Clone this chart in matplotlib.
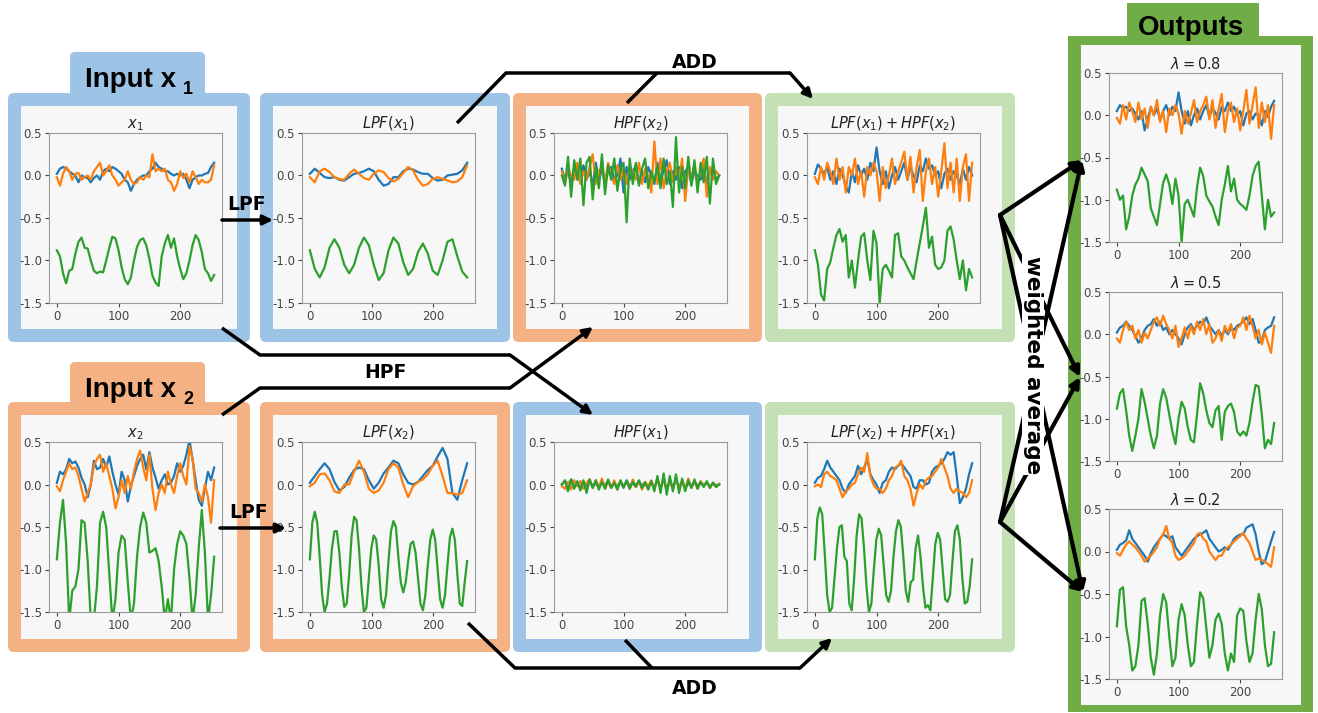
import numpy as np
import matplotlib.pyplot as plt
from matplotlib.patches import FancyBboxPatch, Rectangle

plt.rcParams['axes.unicode_minus'] = False

# ---- data (x runs 0..255 in every panel) ----
x1_blue = [0.02, 0.08, 0.1, 0.08, 0.05, 0.02, 0.0, -0.08, 0.0, -0.02, -0.03, -0.08, -0.03, 0.0,
           -0.05, 0.05, 0.08, 0.05, 0.1, 0.08, 0.05, 0.02, -0.05, -0.08, -0.18, -0.1, -0.05, -0.02,
           0.0, 0.0, 0.05, 0.08, 0.15, 0.1, 0.08, 0.05, 0.05, 0.02, 0.0, 0.02, 0.0, 0.02, -0.05,
           -0.15, -0.05, -0.02, 0.0, 0.0, 0.02, 0.03, 0.1, 0.15]
x1_orange = [-0.02, -0.12, 0.02, 0.1, 0.05, -0.05, 0.02, 0.03, -0.05, -0.02, 0.0, -0.05, 0.05, 0.1,
             0.15, 0.0, 0.05, 0.12, 0.0, -0.05, -0.12, -0.08, -0.05, 0.05, -0.05, -0.1, -0.08, -0.02,
             -0.05, 0.0, -0.02, 0.25, 0.05, 0.08, 0.05, 0.08, -0.05, -0.08, -0.18, -0.1, 0.05, -0.03,
             0.02, -0.08, 0.05, -0.02, -0.1, -0.05, -0.08, -0.08, -0.05, 0.12]
x1_green = [-0.88, -0.95, -1.15, -1.27, -1.12, -1.1, -0.92, -0.78, -0.73, -0.85, -0.86, -1.0, -1.12,
            -1.15, -1.13, -1.14, -1.0, -0.85, -0.72, -0.74, -0.88, -1.08, -1.22, -1.28, -1.2, -1.0,
            -0.84, -0.76, -0.74, -0.82, -0.98, -1.18, -1.26, -1.3, -0.95, -0.8, -0.7, -0.85, -0.74,
            -0.95, -1.1, -1.22, -1.15, -1.0, -0.82, -0.7, -0.76, -0.9, -1.1, -1.15, -1.24, -1.17]

lpf1_blue = [0.02, 0.08, 0.03, -0.02, -0.03, -0.02, -0.05, -0.06, -0.02, 0.02, 0.03, 0.05, 0.08,
             0.05, -0.05, -0.12, -0.1, -0.02, -0.02, 0.05, 0.08, 0.07, 0.04, 0.02, 0.02, -0.03,
             -0.06, -0.05, 0.0, 0.01, 0.02, 0.06, 0.15]
lpf1_orange = [-0.02, -0.08, 0.05, 0.08, 0.04, -0.02, -0.04, -0.05, 0.02, 0.07, 0.02, -0.03, -0.05,
               0.02, 0.06, 0.04, -0.03, -0.07, -0.04, 0.03, 0.1, 0.06, -0.05, -0.12, -0.1, -0.04,
               -0.02, -0.04, -0.06, -0.08, -0.07, -0.02, 0.12]
lpf1_green = [-0.88, -1.1, -1.2, -1.08, -0.85, -0.75, -0.85, -1.05, -1.15, -1.05, -0.85, -0.73, -0.82,
              -1.05, -1.23, -1.15, -0.88, -0.73, -0.8, -1.02, -1.17, -1.1, -0.9, -0.8, -0.92, -1.12,
              -1.17, -1.0, -0.78, -0.75, -0.95, -1.13, -1.2]

hpf2_blue = [0.08, -0.05, 0.05, -0.1, 0.1, 0.0, -0.08, 0.12, -0.05, 0.05, -0.12, 0.15, -0.05, 0.08,
             -0.1, 0.05, 0.1, -0.05, 0.0, 0.2, -0.2, 0.1, -0.05, 0.05, 0.12, -0.1, 0.05, -0.08, 0.1,
             0.0, -0.1, 0.15, -0.05, 0.05, 0.18, -0.1, 0.05, -0.05, 0.1, -0.15, 0.05, 0.1, -0.1,
             0.05, 0.0, -0.05, 0.1, -0.1, 0.05, 0.08, -0.05, 0.0]
hpf2_orange = [0.05, -0.1, 0.1, 0.0, -0.05, 0.15, -0.1, 0.05, -0.05, 0.1, 0.25, -0.1, 0.05, 0.1,
               -0.08, 0.15, 0.0, -0.1, 0.12, -0.05, 0.08, -0.1, 0.1, 0.05, -0.05, 0.15, -0.1, 0.08,
               0.0, -0.2, 0.4, -0.1, 0.2, -0.15, 0.05, 0.15, -0.08, 0.1, -0.05, 0.2, -0.3, 0.1,
               -0.05, 0.15, -0.1, 0.05, 0.2, -0.25, 0.1, -0.05, 0.05, 0.0]
hpf2_green = [0.0, -0.12, 0.22, -0.25, 0.18, -0.05, 0.2, -0.35, 0.15, 0.22, -0.28, 0.1, -0.15, 0.25,
              -0.22, 0.12, -0.05, 0.2, -0.18, 0.08, 0.15, -0.55, 0.2, -0.1, 0.15, -0.12, 0.08, 0.2,
              -0.15, 0.05, -0.08, 0.12, -0.15, 0.2, -0.1, 0.05, -0.37, 0.45, -0.2, 0.1, -0.15, 0.22,
              -0.12, 0.18, -0.2, 0.15, -0.08, 0.22, -0.33, 0.2, -0.1, 0.0]

mix1_blue = [0.02, 0.13, 0.08, 0.02, 0.1, -0.05, 0.05, -0.1, 0.08, 0.0, -0.12, -0.2, 0.05, -0.08,
             0.12, 0.0, 0.08, -0.05, 0.15, 0.05, 0.33, 0.05, -0.1, 0.05, -0.15, 0.0, 0.1, -0.05,
             0.05, 0.15, -0.05, 0.1, 0.0, -0.08, 0.12, 0.05, 0.2, 0.08, 0.12, 0.0, 0.05, -0.15,
             0.02, 0.08, -0.05, 0.05, 0.0, -0.1, 0.08, -0.05, 0.1, 0.0]
mix1_orange = [-0.02, -0.1, 0.1, -0.05, 0.15, 0.05, -0.1, 0.2, -0.05, 0.1, -0.2, 0.1, 0.0, 0.2,
               -0.1, 0.05, -0.25, 0.1, 0.0, 0.15, 0.05, -0.3, 0.1, -0.15, 0.0, 0.2, -0.1, 0.05,
               0.15, 0.28, -0.05, 0.22, -0.2, 0.1, 0.3, -0.3, 0.05, 0.2, -0.1, 0.1, -0.25, 0.05,
               0.38, -0.15, 0.15, -0.2, 0.2, -0.3, 0.1, 0.25, -0.3, 0.15]
mix1_green = [-0.88, -1.05, -1.4, -1.47, -1.1, -1.02, -0.85, -0.7, -0.63, -0.78, -0.7, -1.2, -1.0,
              -1.32, -1.0, -0.72, -0.68, -1.0, -1.23, -0.65, -0.8, -1.5, -1.1, -1.05, -1.12, -1.2,
              -0.7, -0.68, -0.95, -1.0, -1.08, -1.15, -1.22, -1.0, -0.8, -0.6, -0.38, -0.85, -0.72,
              -1.05, -1.1, -1.08, -1.0, -0.65, -0.6, -0.75, -1.0, -1.22, -1.0, -1.35, -1.1, -1.2]

x2_blue = [0.02, 0.15, 0.12, 0.18, 0.3, 0.25, 0.27, 0.2, 0.08, 0.0, -0.15, 0.0, 0.28, 0.18, 0.2,
           0.3, 0.2, 0.33, 0.15, 0.0, -0.12, 0.15, 0.05, -0.2, -0.02, 0.1, 0.22, 0.3, 0.35, 0.18,
           0.38, 0.2, 0.08, -0.05, 0.05, 0.12, 0.0, 0.02, 0.1, 0.25, 0.15, 0.22, 0.35, 0.52, 0.3,
           0.05, -0.18, -0.25, -0.05, 0.15, 0.05, 0.2]
x2_orange = [-0.02, -0.08, 0.05, 0.15, 0.25, 0.18, 0.2, 0.1, -0.05, -0.2, -0.1, 0.0, 0.22, 0.3,
             0.35, 0.15, 0.25, 0.1, -0.05, -0.28, -0.15, 0.05, -0.1, 0.1, -0.05, 0.15, 0.3, 0.4,
             0.2, 0.05, 0.35, -0.05, -0.3, -0.1, 0.0, -0.1, 0.15, 0.0, -0.1, 0.1, 0.25, 0.1, 0.0,
             0.45, 0.3, -0.05, -0.1, -0.2, 0.0, -0.15, -0.45, 0.05]
x2_green = [-0.88, -0.45, -0.18, -0.7, -1.6, -1.25, -1.2, -1.0, -0.42, -0.45, -0.9, -1.6, -1.6,
            -1.2, -0.45, -0.32, -0.5, -1.05, -1.6, -1.35, -0.8, -0.6, -0.65, -1.15, -1.6, -1.4,
            -0.85, -0.5, -0.33, -0.45, -0.8, -0.78, -0.75, -0.9, -1.2, -1.6, -1.35, -1.6, -1.0,
            -0.7, -0.55, -0.6, -0.7, -1.1, -1.6, -1.3, -0.75, -0.3, -0.8, -1.6, -1.3, -0.85]

lpf2_blue = [0.02, 0.1, 0.18, 0.25, 0.18, 0.03, -0.07, -0.03, 0.08, 0.17, 0.2, 0.18, 0.05, -0.05,
             0.02, 0.13, 0.2, 0.28, 0.25, 0.12, 0.02, 0.0, 0.03, 0.1, 0.17, 0.22, 0.33, 0.43, 0.3,
             -0.1, -0.18, 0.05, 0.25]
lpf2_orange = [-0.02, 0.02, 0.12, 0.13, 0.05, -0.08, -0.1, 0.0, 0.0, 0.15, 0.28, 0.15, -0.05, -0.1,
               -0.07, 0.02, 0.18, 0.25, 0.2, 0.0, -0.15, -0.02, 0.03, 0.06, 0.12, 0.22, 0.28, 0.1,
               -0.1, -0.1, -0.12, -0.1, 0.05]
lpf2_green = [-0.88, -0.45, -0.32, -0.45, -0.85, -1.3, -1.5, -1.4, -1.1, -0.75, -0.55, -0.55, -0.8,
              -1.2, -1.44, -1.4, -1.05, -0.6, -0.38, -0.42, -0.75, -1.2, -1.5, -1.45, -1.1, -0.75,
              -0.6, -0.65, -0.95, -1.35, -1.45, -1.3, -0.9, -0.55, -0.43, -0.5, -0.85, -1.15, -1.27,
              -1.15, -0.9, -0.7, -0.67, -0.8, -1.1, -1.4, -1.48, -1.3, -0.95, -0.65, -0.53, -0.65,
              -1.0, -1.35, -1.45, -1.3, -0.95, -0.62, -0.52, -0.65, -1.05, -1.4, -1.43, -1.15, -0.9]

hpf1_blue = [0.0, 0.04, -0.02, 0.06, -0.03, 0.02, -0.04, 0.03, -0.02, 0.05, -0.03, 0.02, -0.04,
             0.03, -0.01, 0.04, -0.03, 0.02, -0.02, 0.03, -0.04, 0.05, -0.02, 0.02, -0.03, 0.04,
             -0.02, 0.03, -0.04, 0.02, -0.03, 0.05, -0.04, 0.06, -0.05, 0.04, -0.03, 0.05, -0.02,
             0.03, -0.04, 0.02, -0.03, 0.04, -0.02, 0.03, -0.01, 0.02, -0.03, 0.02, -0.01, 0.0]
hpf1_orange = [-0.02, -0.05, 0.03, -0.06, 0.05, -0.02, 0.04, -0.05, 0.02, 0.06, -0.04, 0.05, -0.03,
               0.07, -0.05, 0.03, -0.04, 0.05, -0.06, 0.04, -0.02, 0.03, -0.05, 0.06, -0.03, 0.04,
               -0.06, 0.03, -0.02, 0.05, -0.05, 0.06, -0.04, 0.05, -0.06, 0.03, -0.05, 0.06, -0.03,
               0.04, -0.05, 0.07, -0.04, 0.03, -0.05, 0.04, -0.02, 0.03, -0.04, 0.02, -0.03, 0.01]
hpf1_green = [0.0, 0.05, -0.08, 0.06, -0.05, 0.04, -0.07, 0.05, -0.1, 0.06, -0.04, 0.05, -0.06,
              0.03, -0.05, 0.06, -0.04, 0.02, -0.06, 0.05, -0.03, 0.04, -0.05, 0.03, -0.02, 0.05,
              -0.04, 0.02, -0.06, 0.04, -0.08, 0.1, -0.1, 0.13, -0.12, 0.1, -0.08, 0.12, -0.1, 0.07,
              -0.08, 0.05, -0.04, 0.06, -0.05, 0.03, -0.03, 0.04, -0.04, 0.02, -0.03, 0.0]

mix2_blue = [0.02, 0.08, 0.1, 0.18, 0.28, 0.2, 0.15, 0.1, 0.05, -0.05, -0.1, 0.0, 0.05, 0.1, 0.22,
             0.12, 0.2, 0.3, 0.12, 0.05, 0.0, -0.1, 0.02, 0.05, 0.15, 0.2, 0.18, 0.22, 0.25, 0.2,
             0.15, 0.1, -0.03, -0.05, 0.05, 0.05, 0.0, 0.02, 0.15, 0.2, 0.22, 0.25, 0.3, 0.38, 0.35,
             0.38, 0.1, -0.22, -0.15, -0.05, 0.12, 0.25]
mix2_orange = [-0.02, 0.0, -0.03, 0.12, 0.15, 0.1, 0.08, 0.05, -0.05, -0.15, -0.08, -0.05, 0.0, 0.02,
               0.12, 0.2, 0.15, 0.37, 0.1, 0.0, -0.05, -0.05, -0.1, -0.05, 0.05, 0.1, 0.2, 0.22,
               0.28, 0.1, 0.05, -0.05, -0.25, -0.1, 0.0, -0.05, 0.05, 0.08, 0.1, 0.15, 0.2, 0.3, 0.2,
               0.1, -0.05, -0.1, -0.05, -0.08, -0.1, -0.15, -0.1, 0.05]
mix2_green = [-0.88, -0.4, -0.27, -0.35, -0.8, -1.3, -1.5, -1.45, -1.1, -0.75, -0.5, -0.48, -0.85,
              -0.9, -1.4, -1.48, -1.1, -0.6, -0.35, -0.4, -0.75, -1.2, -1.5, -1.4, -1.0, -0.65,
              -0.52, -0.6, -0.95, -1.3, -1.38, -1.25, -0.85, -0.55, -0.42, -0.5, -0.85, -1.25, -1.38,
              -1.15, -1.12, -0.75, -0.6, -0.85, -1.2, -1.45, -1.42, -1.48, -1.1, -0.7, -0.57, -0.65,
              -1.0, -1.35, -1.38, -1.3, -0.9, -0.55, -0.48, -0.65, -1.1, -1.4, -1.38, -1.2, -0.88]

lam08_blue = [0.05, 0.12, 0.08, 0.1, 0.05, 0.08, 0.02, -0.05, 0.05, -0.18, -0.05, 0.1, 0.0, 0.08,
              -0.05, 0.05, 0.12, 0.0, 0.1, 0.05, 0.27, 0.05, -0.1, 0.05, -0.12, 0.0, 0.08, -0.05,
              0.05, 0.12, -0.02, 0.08, 0.03, -0.05, 0.1, 0.05, 0.15, 0.05, 0.1, 0.0, 0.05, -0.12,
              0.02, 0.05, -0.05, 0.02, 0.0, -0.12, 0.05, -0.02, 0.1, 0.17]
lam08_orange = [-0.03, -0.1, 0.12, -0.05, 0.15, 0.05, -0.08, 0.15, -0.05, 0.08, -0.15, 0.1, 0.0,
                0.18, -0.08, 0.05, -0.2, 0.08, 0.0, 0.12, 0.02, -0.22, 0.05, -0.1, 0.02, 0.18,
                -0.08, 0.05, 0.12, 0.22, -0.05, 0.18, -0.15, 0.08, 0.25, -0.2, 0.05, 0.15, -0.08,
                0.08, -0.18, 0.05, 0.3, -0.1, 0.12, 0.33, -0.15, 0.15, -0.08, 0.12, -0.28, 0.12]
lam08_green = [-0.88, -1.0, -0.95, -1.35, -1.2, -0.95, -0.82, -0.75, -0.62, -0.7, -0.78, -1.1, -1.2,
               -1.3, -1.05, -0.8, -0.7, -0.82, -1.05, -0.75, -0.95, -1.5, -1.05, -1.0, -1.1, -1.2,
               -0.85, -0.62, -0.72, -0.95, -1.02, -1.08, -1.2, -1.3, -1.0, -0.82, -0.6, -0.9, -0.75,
               -1.0, -1.05, -1.08, -1.12, -0.95, -0.72, -0.6, -0.55, -0.95, -1.35, -1.0, -1.2, -1.15]

lam05_blue = [0.02, 0.08, 0.1, 0.15, 0.1, 0.05, -0.02, -0.1, -0.05, 0.05, 0.1, 0.12, 0.18, 0.1, 0.15,
              0.05, 0.08, 0.0, 0.05, 0.0, -0.05, -0.12, 0.0, 0.08, 0.12, 0.05, 0.1, 0.15, 0.12, 0.2,
              0.1, 0.05, 0.0, 0.05, -0.02, 0.05, 0.0, 0.08, 0.05, 0.1, 0.12, 0.15, 0.2, 0.12, 0.18,
              0.05, -0.1, -0.08, 0.05, 0.08, 0.1, 0.2]
lam05_orange = [-0.05, -0.1, 0.05, 0.15, 0.05, 0.1, -0.05, 0.05, -0.1, 0.02, -0.05, 0.05, 0.15, 0.2,
                0.1, 0.22, 0.12, 0.05, -0.05, 0.1, -0.15, -0.05, 0.08, -0.05, 0.1, 0.0, 0.15, 0.05,
                0.18, 0.0, 0.12, -0.1, -0.05, 0.05, -0.08, 0.1, 0.02, 0.12, -0.05, 0.08, 0.1, 0.2,
                0.05, 0.22, 0.1, -0.05, 0.05, -0.12, 0.02, -0.1, -0.22, 0.1]
lam05_green = [-0.88, -0.7, -0.65, -0.9, -1.2, -1.38, -1.2, -1.0, -0.65, -0.8, -1.0, -1.2, -1.35,
               -1.2, -0.82, -0.65, -0.75, -0.95, -1.15, -1.3, -1.0, -0.8, -0.88, -1.1, -1.25, -1.28,
               -0.95, -0.58, -0.7, -0.9, -1.05, -1.1, -0.9, -0.85, -1.25, -0.92, -0.85, -0.82, -0.92,
               -1.15, -1.2, -1.15, -1.2, -1.05, -0.8, -0.6, -0.62, -0.95, -1.35, -1.25, -1.3, -1.05]

lam02_blue = [0.02, 0.08, 0.1, 0.13, 0.25, 0.15, 0.1, 0.05, 0.0, -0.05, -0.12, -0.02, 0.05, 0.1,
              0.15, 0.2, 0.18, 0.15, 0.18, 0.05, 0.0, -0.05, 0.0, 0.05, 0.1, 0.15, 0.18, 0.2, 0.22,
              0.25, 0.15, 0.1, 0.05, 0.0, 0.02, 0.05, 0.02, 0.08, 0.15, 0.18, 0.2, 0.2, 0.28, 0.3,
              0.32, 0.2, 0.0, -0.15, -0.12, 0.0, 0.12, 0.23]
lam02_orange = [-0.02, -0.05, 0.02, 0.08, 0.12, 0.08, 0.05, 0.0, -0.05, -0.12, -0.08, -0.05, 0.0,
                0.05, 0.15, 0.2, 0.3, 0.15, 0.1, -0.05, -0.1, -0.08, -0.05, 0.0, 0.05, 0.1, 0.2,
                0.22, 0.15, 0.12, 0.0, -0.05, -0.1, -0.05, -0.05, 0.02, 0.05, 0.08, 0.12, 0.15, 0.18,
                0.22, 0.15, 0.1, 0.0, -0.1, -0.08, -0.1, -0.12, -0.15, -0.18, 0.05]
lam02_green = [-0.88, -0.45, -0.42, -0.88, -1.1, -1.4, -1.35, -1.1, -0.58, -0.55, -0.85, -1.25, -1.45,
               -1.2, -0.75, -0.5, -0.6, -1.0, -1.35, -1.25, -0.8, -0.62, -0.75, -1.1, -1.35, -1.3,
               -0.85, -0.48, -0.55, -0.9, -1.25, -1.1, -0.8, -0.73, -0.85, -1.2, -1.4, -1.2, -1.3,
               -0.75, -0.67, -0.7, -1.05, -1.3, -1.2, -0.8, -0.5, -0.68, -1.1, -1.35, -1.32, -0.95]

titles = [r'$x_1$', r'$LPF(x_1)$', r'$HPF(x_2)$', r'$LPF(x_1) + HPF(x_2)$',
          r'$x_2$', r'$LPF(x_2)$', r'$HPF(x_1)$', r'$LPF(x_2) + HPF(x_1)$',
          r'$\lambda = 0.8$', r'$\lambda = 0.5$', r'$\lambda = 0.2$']
series = [(x1_blue, x1_orange, x1_green), (lpf1_blue, lpf1_orange, lpf1_green),
          (hpf2_blue, hpf2_orange, hpf2_green), (mix1_blue, mix1_orange, mix1_green),
          (x2_blue, x2_orange, x2_green), (lpf2_blue, lpf2_orange, lpf2_green),
          (hpf1_blue, hpf1_orange, hpf1_green), (mix2_blue, mix2_orange, mix2_green),
          (lam08_blue, lam08_orange, lam08_green), (lam05_blue, lam05_orange, lam05_green),
          (lam02_blue, lam02_orange, lam02_green)]

# ---- layout (pixels) ----
W, H = 1318, 713
BLUE, ORANGE, LGREEN, DGREEN = '#9dc3e6', '#f4b183', '#c5e0b4', '#70ad47'
INNER = '#f7f7f7'
line_colors = ['#1f77b4', '#ff7f0e', '#2ca02c']

col_x = [(8, 250), (260, 510), (513, 762), (765, 1015)]
row_y = [(93, 342), (402, 652)]
box_colors = [[BLUE, BLUE, ORANGE, LGREEN], [ORANGE, ORANGE, BLUE, LGREEN]]
ax_left = [49, 302, 554, 807]
ax_rows = [(133, 303), (442, 612)]
out_rows = [(73, 242), (292, 461), (509, 679)]


def frac(l, t, r, b):
    return [l / W, 1 - b / H, (r - l) / W, (b - t) / H]


fig = plt.figure(figsize=(W / 100, H / 100), dpi=100)
fig.patch.set_facecolor('white')

bg = fig.add_axes([0, 0, 1, 1])
bg.set_xlim(0, W)
bg.set_ylim(H, 0)
bg.axis('off')


def box(l, t, r, b, color, bw=13):
    bg.add_patch(FancyBboxPatch((l, t), r - l, b - t, boxstyle='round,pad=0,rounding_size=6',
                                fc=color, ec='none'))
    bg.add_patch(Rectangle((l + bw, t + bw), r - l - 2 * bw, b - t - 2 * bw, fc=INNER, ec='none'))


# tabs first so boxes cover their lower edge
bg.add_patch(FancyBboxPatch((70, 52), 135, 50, boxstyle='round,pad=0,rounding_size=5', fc=BLUE, ec='none'))
bg.add_patch(FancyBboxPatch((70, 362), 135, 50, boxstyle='round,pad=0,rounding_size=5', fc=ORANGE, ec='none'))
bg.add_patch(Rectangle((1127, 3), 132, 40, fc=DGREEN, ec='none'))
for i, (t, b) in enumerate(row_y):
    for j, (l, r) in enumerate(col_x):
        box(l, t, r, b, box_colors[i][j])
bg.add_patch(Rectangle((1068, 36), 245, 676, fc=DGREEN, ec='none'))
bg.add_patch(Rectangle((1081, 45), 220, 660, fc=INNER, ec='none'))


def panel(rect, title, ys):
    ax = fig.add_axes(frac(*rect))
    ax.set_facecolor(INNER)
    for y, c in zip(ys, line_colors):
        ax.plot(np.linspace(0, 255, len(y)), y, color=c, lw=1.6)
    ax.set_ylim(-1.5, 0.5)
    ax.set_yticks([0.5, 0.0, -0.5, -1.0, -1.5])
    ax.set_xticks([0, 100, 200])
    ax.tick_params(labelsize=8.5, colors='#444444', length=3, width=0.8, pad=2)
    ax.set_title(title, fontsize=10.5, pad=3, color='#222222')
    for s in ax.spines.values():
        s.set_color('#9a9a9a')
        s.set_linewidth(0.8)
    return ax


k = 0
for i, (t, b) in enumerate(ax_rows):
    for j, l in enumerate(ax_left):
        panel((l, t, l + 173, b), titles[k], series[k])
        k += 1
for t, b in out_rows:
    panel((1109, t, 1282, b), titles[k], series[k])
    k += 1

# ---- arrows and labels on top ----
fg = fig.add_axes([0, 0, 1, 1])
fg.set_zorder(10)
fg.patch.set_alpha(0)
fg.set_xlim(0, W)
fg.set_ylim(H, 0)
fg.axis('off')


def path(pts, lw=2.5, head=True):
    xs = [p[0] for p in pts]
    ys = [p[1] for p in pts]
    n = len(pts) - 1 if head else len(pts)
    if n >= 2:
        fg.plot(xs[:n], ys[:n], color='k', lw=lw, solid_joinstyle='miter', solid_capstyle='butt')
    if head:
        fg.annotate('', xy=pts[-1], xytext=pts[-2],
                    arrowprops=dict(arrowstyle='-|>', color='k', lw=lw, mutation_scale=14,
                                    shrinkA=0, shrinkB=0))


lbl = dict(fontsize=13.5, fontweight='bold', ha='center', va='center', family='DejaVu Sans')

path([(222, 220), (273, 220)])
fg.text(247, 205, 'LPF', **lbl)
path([(220, 528), (286, 528)])
fg.text(249, 513, 'LPF', **lbl)

path([(457, 123), (506, 73), (790, 73), (813, 99)])
path([(627, 103), (657, 73)], head=False)
fg.text(695, 62, 'ADD', **lbl)

path([(222, 328), (260, 355), (510, 355), (593, 415)])
path([(222, 415), (260, 388), (510, 388), (593, 327)])
fg.text(385, 373, 'HPF', **lbl)

path([(468, 623), (515, 668), (800, 668), (832, 638)])
path([(625, 640), (652, 668)], head=False)
fg.text(695, 689, 'ADD', **lbl)

for src in [(1000, 215), (1000, 522)]:
    for tip in [(1082, 160), (1080, 377), (1083, 592)]:
        path([src, tip], lw=3)
fg.text(1033, 365, 'weighted average', rotation=-90, ha='center', va='center', fontsize=15.5,
        fontweight='bold', family='DejaVu Sans', bbox=dict(fc='white', ec='none', pad=1))

tab = dict(fontsize=20, fontweight='bold', family='Liberation Sans', va='baseline')
fg.text(85, 87, 'Input x', ha='left', **tab)
fg.text(183, 94, '1', ha='left', fontsize=13, fontweight='bold', family='Liberation Sans', va='baseline')
fg.text(85, 397, 'Input x', ha='left', **tab)
fg.text(183, 404, '2', ha='left', fontsize=13, fontweight='bold', family='Liberation Sans', va='baseline')
fg.text(1191, 35, 'Outputs', ha='center', **tab)

fig.savefig('out.png', dpi=100, facecolor='white')
